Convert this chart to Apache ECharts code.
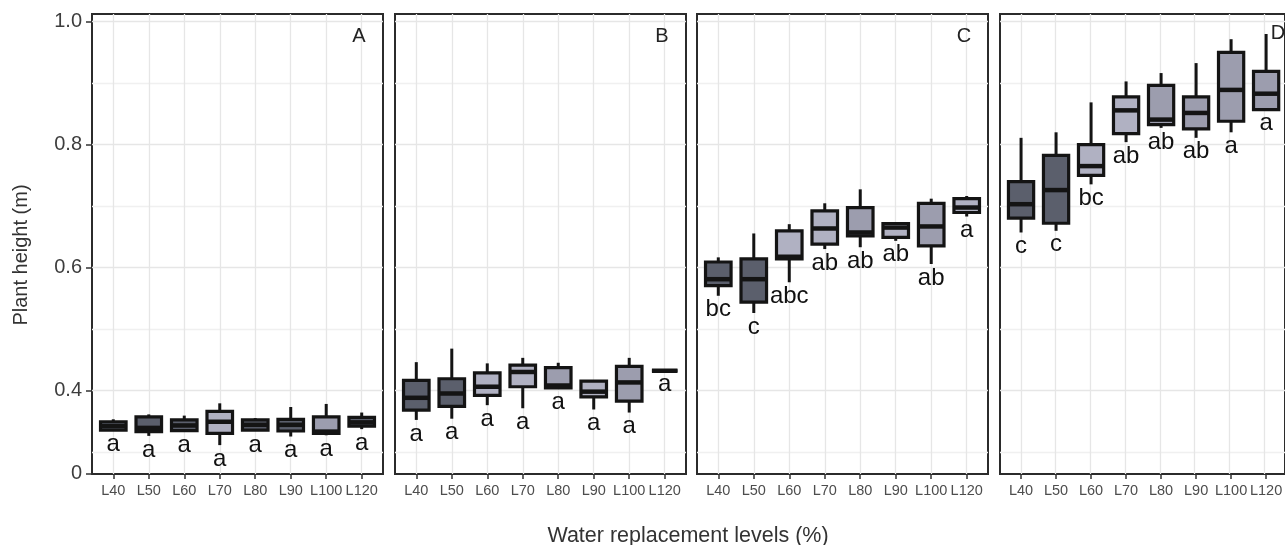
<!DOCTYPE html>
<html><head><meta charset="utf-8">
<script src="https://cdn.jsdelivr.net/npm/echarts@6/dist/echarts.min.js"></script>
<style>html,body{margin:0;padding:0;background:#fff}#c{width:1285px;height:545px}</style>
</head><body><div id="c"></div>
<script>
// ---------------- data ----------------
const categories = ['L40','L50','L60','L70','L80','L90','L100','L120'];
const panelNames = ['A','B','C','D'];
// each row: [min, q1, median, q3, max]
const statsA = [
  [0.335,0.3355,0.342,0.349,0.353],
  [0.326,0.333,0.339,0.357,0.361],
  [0.334,0.3345,0.343,0.352,0.359],
  [0.311,0.330,0.349,0.366,0.379],
  [0.334,0.3355,0.344,0.352,0.355],
  [0.325,0.334,0.344,0.353,0.373],
  [0.327,0.330,0.333,0.357,0.378],
  [0.337,0.342,0.348,0.356,0.364]
];
const statsB = [
  [0.352,0.368,0.388,0.4165,0.446],
  [0.354,0.374,0.395,0.419,0.468],
  [0.376,0.392,0.406,0.4285,0.444],
  [0.371,0.406,0.430,0.441,0.453],
  [0.403,0.404,0.408,0.437,0.445],
  [0.369,0.3895,0.398,0.415,0.417],
  [0.364,0.3825,0.413,0.439,0.453],
  [0.432,0.432,0.432,0.432,0.432]
];
const statsC = [
  [0.554,0.5705,0.581,0.609,0.6165],
  [0.526,0.5436,0.581,0.614,0.6554],
  [0.576,0.614,0.6175,0.6597,0.6705],
  [0.630,0.638,0.6635,0.692,0.7045],
  [0.633,0.6515,0.657,0.6976,0.7272],
  [0.6434,0.649,0.665,0.6716,0.672],
  [0.6057,0.6353,0.6668,0.7045,0.712],
  [0.683,0.6895,0.6976,0.712,0.7164]
];
const statsD = [
  [0.657,0.6802,0.703,0.7397,0.811],
  [0.6597,0.672,0.726,0.7823,0.820],
  [0.7353,0.750,0.765,0.800,0.8687],
  [0.804,0.818,0.8557,0.8775,0.9028],
  [0.8272,0.8326,0.8407,0.8963,0.9164],
  [0.811,0.8256,0.8515,0.8775,0.9326],
  [0.820,0.838,0.889,0.950,0.9715],
  [0.857,0.857,0.8828,0.919,0.980]
];
const lettersA = ['a','a','a','a','a','a','a','a'];
const lettersB = ['a','a','a','a','a','a','a','a'];
const lettersC = ['bc','c','abc','ab','ab','ab','ab','a'];
const lettersD = ['c','c','bc','ab','ab','ab','a','a'];
// fill group per box: 0 dark, 1 medium, 2 light
const shadeA = [0,0,0,2,0,0,1,0];
const shadeB = [0,0,2,2,1,2,1,0];
const shadeC = [0,0,2,2,1,2,1,2];
const shadeD = [0,0,2,2,1,1,1,1];
const yTicks = [0.2645, 0.4, 0.6, 0.8, 1.0];
const yTickLabels = ['0', '0.4', '0.6', '0.8', '1.0'];
const yGridValues = [0.3, 0.4, 0.5, 0.6, 0.7, 0.8, 0.9, 1.0];

// ---------------- layout / style ----------------
const FONT = '"Liberation Sans", Arial, Helvetica, sans-serif';
const Y_MIN = 0.264, Y_MAX = 1.0125;
const fills = ['#5b5f6c', '#9c9dae', '#b0b1c2'];
const panelLeft = [92, 395, 697, 1000];
const panelW = 291, panelTop = 14, panelH = 460;
const step = panelW / 8.2;
const stats = [statsA, statsB, statsC, statsD];
const letters = [lettersA, lettersB, lettersC, lettersD];
const shades = [shadeA, shadeB, shadeC, shadeD];
const letterPos = [[359,36],[662,36],[964,36],[1278,33]];
const xGridValues = categories.map((c, i) => i + 0.6);

const grid = [], xAxis = [], yAxis = [], series = [];
for (let p = 0; p < 4; p++) {
  grid.push({left: panelLeft[p], top: panelTop, width: panelW, height: panelH,
    show: true, borderColor: '#2b2b2b', borderWidth: 2, backgroundColor: '#fff'});
}
for (let p = 0; p < 4; p++) {
  grid.push({left: panelLeft[p] + 0.1 * step, top: panelTop, width: 8 * step, height: panelH});
}
// outer x axes (vertical grid lines)
for (let p = 0; p < 4; p++) {
  xAxis.push({type: 'value', gridIndex: p, min: 0, max: 8.2,
    axisLine: {show: false}, axisLabel: {show: false},
    axisTick: {show: false, customValues: xGridValues},
    splitLine: {show: true, customValues: xGridValues, lineStyle: {color: '#e6e6e6', width: 1.3}}});
}
// inner category x axes
for (let p = 0; p < 4; p++) {
  xAxis.push({type: 'category', gridIndex: 4 + p, data: categories, boundaryGap: true,
    axisLine: {show: false},
    axisTick: {show: true, alignWithLabel: true, length: 5, lineStyle: {color: '#333', width: 1.5}},
    axisLabel: {interval: 0, margin: 9, fontSize: 14.5, color: '#4d4d4d', fontFamily: FONT},
    splitLine: {show: false}});
}
// outer y axes (horizontal grid lines)
for (let p = 0; p < 4; p++) {
  yAxis.push({type: 'value', gridIndex: p, min: Y_MIN, max: Y_MAX, position: 'right',
    axisLine: {show: false}, axisLabel: {show: false},
    axisTick: {show: false, customValues: yGridValues},
    splitLine: {show: true, customValues: yGridValues,
      lineStyle: {color: ['#f0f0f0', '#e6e6e6'], width: 1.3}}});
}
// labelled y axis on panel A
yAxis.push({type: 'value', gridIndex: 0, min: Y_MIN, max: Y_MAX, position: 'left',
  axisLine: {show: false},
  axisTick: {show: true, length: 6, customValues: yTicks, lineStyle: {color: '#333', width: 1.5}},
  axisLabel: {show: true, customValues: yTicks, margin: 10, fontSize: 20, color: '#3d3d3d', fontFamily: FONT,
    formatter: function (v) {
      const i = yTicks.findIndex(t => Math.abs(t - v) < 1e-6);
      return i >= 0 ? yTickLabels[i] : '';
    }},
  splitLine: {show: false}});
// inner y axes
for (let p = 0; p < 4; p++) {
  yAxis.push({type: 'value', gridIndex: 4 + p, min: Y_MIN, max: Y_MAX, show: false});
}

function makeRender(p) {
  return function (params, api) {
    const xi = api.value(0);
    const lo = api.coord([xi, api.value(1)]);
    const q1 = api.coord([xi, api.value(2)]);
    const md = api.coord([xi, api.value(3)]);
    const q3 = api.coord([xi, api.value(4)]);
    const hi = api.coord([xi, api.value(5)]);
    const band = api.size([1, 0])[0];
    const w = band * 0.72;
    const cx = lo[0];
    const ink = '#141414';
    return {
      type: 'group',
      children: [
        {type: 'line', shape: {x1: cx, y1: hi[1], x2: cx, y2: q3[1]}, style: {stroke: ink, lineWidth: 3}},
        {type: 'line', shape: {x1: cx, y1: q1[1], x2: cx, y2: lo[1]}, style: {stroke: ink, lineWidth: 3}},
        {type: 'rect', shape: {x: cx - w / 2, y: q3[1], width: w, height: q1[1] - q3[1]},
          style: {fill: fills[shades[p][params.dataIndex]], stroke: ink, lineWidth: 3.2}},
        {type: 'line', shape: {x1: cx - w / 2, y1: md[1], x2: cx + w / 2, y2: md[1]}, style: {stroke: ink, lineWidth: 4.5}},
        {type: 'text', x: cx, y: lo[1] + 14,
          style: {text: letters[p][params.dataIndex], fill: '#111', fontSize: 24, fontFamily: FONT,
            align: 'center', verticalAlign: 'middle'}}
      ]
    };
  };
}

for (let p = 0; p < 4; p++) {
  series.push({
    type: 'custom', name: panelNames[p], xAxisIndex: 4 + p, yAxisIndex: 5 + p,
    clip: false,
    dimensions: ['x', 'min', 'q1', 'median', 'q3', 'max'],
    encode: {x: 0, y: [1, 2, 3, 4, 5]},
    data: stats[p].map((s, i) => [i].concat(s)),
    renderItem: makeRender(p)
  });
}

const graphic = [
  {type: 'text', x: 21, y: 255, rotation: Math.PI / 2,
    style: {text: 'Plant height (m)', fontSize: 20, fill: '#333', fontFamily: FONT, align: 'center', verticalAlign: 'middle'}},
  {type: 'text', x: 688, y: 536,
    style: {text: 'Water replacement levels (%)', fontSize: 21.5, fill: '#333', fontFamily: FONT, align: 'center', verticalAlign: 'middle'}}
];
for (let p = 0; p < 4; p++) {
  graphic.push({type: 'text', x: letterPos[p][0], y: letterPos[p][1], z: 10,
    style: {text: panelNames[p], fontSize: 20, fill: '#222', fontFamily: FONT, align: 'center', verticalAlign: 'middle'}});
}

const chart = echarts.init(document.getElementById('c'), null, {renderer: 'canvas'});
chart.setOption({
  animation: false,
  backgroundColor: '#fff',
  grid, xAxis, yAxis, series, graphic
});
</script></body></html>
